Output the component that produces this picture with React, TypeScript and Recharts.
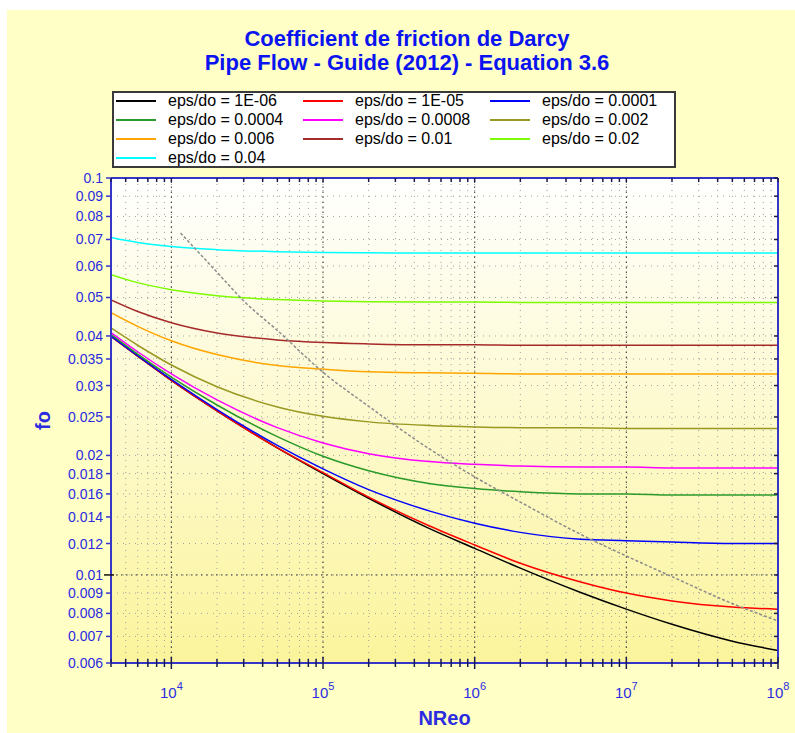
import React from 'react';
import { LineChart, Line, XAxis, YAxis, CartesianGrid, ReferenceLine, Legend, Label } from 'recharts';

const reValues = [4000, 6000, 1e4, 2e4, 5e4, 1e5, 2e5, 5e5, 1e6, 2e6, 5e6, 1e7, 2e7, 5e7, 1e8];

const fEps1e6 = [0.0399, 0.0356, 0.0309, 0.0259, 0.0209, 0.018, 0.0156, 0.0131, 0.01167, 0.0104, 0.00903, 0.0082, 0.00751, 0.00681, 0.00645];
const fEps1e5 = [0.0399, 0.0356, 0.0309, 0.0259, 0.0209, 0.0181, 0.0157, 0.0133, 0.0119, 0.0107, 0.0096, 0.009, 0.0086, 0.0083, 0.0082];
const fEps1e4 = [0.04, 0.0357, 0.0311, 0.0261, 0.0212, 0.0185, 0.0164, 0.0145, 0.0135, 0.0128, 0.0123, 0.0122, 0.0121, 0.012, 0.012];
const fEps4e4 = [0.0404, 0.036, 0.0315, 0.0268, 0.0223, 0.0199, 0.0183, 0.017, 0.0165, 0.0162, 0.016, 0.016, 0.0159, 0.0159, 0.0159];
const fEps8e4 = [0.0408, 0.0365, 0.0321, 0.0276, 0.0235, 0.0215, 0.0202, 0.0193, 0.019, 0.0188, 0.0187, 0.0187, 0.0186, 0.0186, 0.0186];
const fEps2e3 = [0.0419, 0.0379, 0.0338, 0.0298, 0.0265, 0.0251, 0.0243, 0.0238, 0.0236, 0.0235, 0.0235, 0.0234, 0.0234, 0.0234, 0.0234];
const fEps6e3 = [0.0458, 0.0423, 0.0389, 0.0359, 0.0337, 0.033, 0.0325, 0.0323, 0.0322, 0.0321, 0.0321, 0.0321, 0.0321, 0.0321, 0.0321];
const fEps1e2 = [0.0493, 0.0461, 0.0432, 0.0407, 0.0391, 0.0385, 0.0382, 0.038, 0.038, 0.0379, 0.0379, 0.0379, 0.0379, 0.0379, 0.0379];
const fEps2e2 = [0.0571, 0.0545, 0.0523, 0.0505, 0.0494, 0.049, 0.0488, 0.0487, 0.0487, 0.0486, 0.0486, 0.0486, 0.0486, 0.0486, 0.0486];
const fEps4e2 = [0.0708, 0.0688, 0.0672, 0.066, 0.0652, 0.0649, 0.0648, 0.0647, 0.0647, 0.0647, 0.0647, 0.0647, 0.0647, 0.0647, 0.0647];

const seriesValues = [fEps1e6, fEps1e5, fEps1e4, fEps4e4, fEps8e4, fEps2e3, fEps6e3, fEps1e2, fEps2e2, fEps4e2];
const seriesNames = [
  'eps/do = 1E-06', 'eps/do = 1E-05', 'eps/do = 0.0001',
  'eps/do = 0.0004', 'eps/do = 0.0008', 'eps/do = 0.002',
  'eps/do = 0.006', 'eps/do = 0.01', 'eps/do = 0.02',
  'eps/do = 0.04',
];
const seriesColors = ['#000000', '#ff0000', '#0000ff', '#2a9a2a', '#ff00ff', '#999922', '#ffa500', '#a52a2a', '#7cfc00', '#00ffff'];

// grey dashed boundary curve
const grayRe = [11500, 2e4, 3e4, 5e4, 1e5, 2e5, 5e5, 1e6, 2e6, 5e6, 1e7, 2e7, 5e7, 1e8];
const grayF = [0.0727, 0.0579, 0.049, 0.0413, 0.0324, 0.0266, 0.0208, 0.01766, 0.01526, 0.01265, 0.01116, 0.0099, 0.00847, 0.00766];

const xMajor = [1e4, 1e5, 1e6, 1e7, 1e8];
const xTicks = [
  4000, 5000, 6000, 7000, 8000, 9000,
  1e4, 2e4, 3e4, 4e4, 5e4, 6e4, 7e4, 8e4, 9e4,
  1e5, 2e5, 3e5, 4e5, 5e5, 6e5, 7e5, 8e5, 9e5,
  1e6, 2e6, 3e6, 4e6, 5e6, 6e6, 7e6, 8e6, 9e6,
  1e7, 2e7, 3e7, 4e7, 5e7, 6e7, 7e7, 8e7, 9e7,
  1e8,
];
const yTicks = [0.006, 0.007, 0.008, 0.009, 0.01, 0.012, 0.014, 0.016, 0.018, 0.02, 0.025, 0.03, 0.035, 0.04, 0.05, 0.06, 0.07, 0.08, 0.09, 0.1];

const FONT = '"Liberation Sans", Arial, sans-serif';
const AXIS_BLUE = '#3535c8';
const LABEL_BLUE = '#2b2be0';
const TITLE_BLUE = '#0a14f0';

const chartData = reValues.map((re, i) => {
  const row: Record<string, number> = { re };
  seriesValues.forEach((s, k) => { row['s' + k] = s[i]; });
  return row;
});
const grayData = grayRe.map((re, i) => ({ re, g: grayF[i] }));

const BottomTick = (props: any) => {
  const { x, y, payload } = props;
  const v = payload.value;
  const major = xMajor.includes(v);
  const len = major ? 6 : 4;
  return (
    <g>
      <line x1={x} x2={x} y1={y - len} y2={y + len} stroke="#1a1a50" strokeWidth={1.5} />
      {major && (
        <text x={x} y={y + 35} textAnchor="middle" fill={LABEL_BLUE} fontSize={15} fontFamily={FONT}>
          10<tspan dy={-8} fontSize={11}>{Math.round(Math.log10(v))}</tspan>
        </text>
      )}
    </g>
  );
};

const TopTick = (props: any) => {
  const { x, y } = props;
  return <line x1={x} x2={x} y1={y} y2={y + 4} stroke="#1a1a50" strokeWidth={1.5} />;
};

const LeftTick = (props: any) => {
  const { x, y, payload } = props;
  const v = payload.value;
  const major = v === 0.01;
  return (
    <g>
      <line x1={x - (major ? 7 : 5)} x2={x + (major ? 3 : 0)} y1={y} y2={y} stroke={major ? '#111' : AXIS_BLUE} strokeWidth={1.5} />
      <text x={x - 8} y={y} dy={5} textAnchor="end" fill={LABEL_BLUE} fontSize={14} fontFamily={FONT}>
        {String(v)}
      </text>
    </g>
  );
};

const RightTick = (props: any) => {
  const { x, y } = props;
  return <line x1={x - 4} x2={x} y1={y} y2={y} stroke="#1a1a50" strokeWidth={1.5} />;
};

const LegendBox = () => (
  <div
    style={{
      width: 564, height: 77, boxSizing: 'border-box', border: '2px solid #3a3a3a',
      background: '#ffffff', position: 'relative', fontFamily: FONT, fontSize: 16, color: '#000',
    }}
  >
    {seriesNames.map((name, i) => {
      const col = i % 3;
      const row = Math.floor(i / 3);
      return (
        <div
          key={name}
          style={{ position: 'absolute', left: 2 + col * 187, top: row * 19 - 2, height: 19, display: 'flex', alignItems: 'center', whiteSpace: 'nowrap' }}
        >
          <span style={{ display: 'inline-block', width: 40, height: 0, borderTop: `2px solid ${seriesColors[i]}`, marginRight: 12 }} />
          <span>{name}</span>
        </div>
      );
    })}
  </div>
);

const App: React.FC = () => {
  return (
    <div style={{ position: 'absolute', left: 7, top: 10, width: 788, height: 723, background: '#ffffc6', fontFamily: FONT }}>
      <div
        style={{
          position: 'absolute', top: 17, left: 0, width: 800, textAlign: 'center',
          color: TITLE_BLUE, fontWeight: 'bold', fontSize: 22, lineHeight: '24px',
        }}
      >
        <div>Coefficient de friction de Darcy</div>
        <div>Pipe Flow - Guide (2012) - Equation 3.6</div>
      </div>
      <LineChart
        width={788}
        height={723}
        data={chartData}
        margin={{ top: 167, right: 16, bottom: 0, left: 4 }}
        style={{ position: 'absolute', left: 0, top: 0 }}
      >
        <defs>
          <linearGradient id="plotBg" x1="0" y1="0" x2="0" y2="1">
            <stop offset="0%" stopColor="#ffffff" />
            <stop offset="100%" stopColor="#fbf49c" />
          </linearGradient>
        </defs>
        <CartesianGrid stroke="#a0a0a0" strokeDasharray="1 5" fill="url(#plotBg)" fillOpacity={1} />
        <XAxis
          dataKey="re"
          type="number"
          scale="log"
          domain={[4000, 1e8]}
          allowDataOverflow
          ticks={xTicks}
          interval={0}
          height={70}
          tickSize={0}
          tickMargin={0}
          tickLine={false}
          tick={<BottomTick />}
          axisLine={{ stroke: AXIS_BLUE, strokeWidth: 2 }}
        >
          <Label value="NReo" position="insideBottom" offset={8} fill={LABEL_BLUE} fontSize={20} fontWeight="bold" fontFamily={FONT} />
        </XAxis>
        <XAxis
          xAxisId="top"
          orientation="top"
          dataKey="re"
          type="number"
          scale="log"
          domain={[4000, 1e8]}
          allowDataOverflow
          ticks={xTicks}
          interval={0}
          height={1}
          tickSize={0}
          tickMargin={0}
          tickLine={false}
          tick={<TopTick />}
          axisLine={{ stroke: AXIS_BLUE, strokeWidth: 2 }}
        />
        <YAxis
          type="number"
          scale="log"
          domain={[0.006, 0.1]}
          allowDataOverflow
          ticks={yTicks}
          interval={0}
          width={100}
          tickSize={0}
          tickMargin={0}
          tickLine={false}
          tick={<LeftTick />}
          axisLine={{ stroke: AXIS_BLUE, strokeWidth: 2 }}
        >
          <Label
            content={(p: any) => {
              const vb = p.viewBox;
              const cx = vb.x + 39;
              const cy = vb.y + vb.height / 2;
              return (
                <text x={cx} y={cy} transform={`rotate(-90 ${cx} ${cy})`} textAnchor="middle" fill={LABEL_BLUE} fontSize={20} fontWeight="bold" fontFamily={FONT}>
                  fo
                </text>
              );
            }}
          />
        </YAxis>
        <YAxis
          yAxisId="right"
          orientation="right"
          type="number"
          scale="log"
          domain={[0.006, 0.1]}
          allowDataOverflow
          ticks={yTicks}
          interval={0}
          width={1}
          tickSize={0}
          tickMargin={0}
          tickLine={false}
          tick={<RightTick />}
          axisLine={{ stroke: AXIS_BLUE, strokeWidth: 2 }}
        />
        {[1e4, 1e5, 1e6, 1e7].map((v) => (
          <ReferenceLine key={v} x={v} stroke="#333" strokeDasharray="1.5 3.5" />
        ))}
        <ReferenceLine y={0.01} stroke="#333" strokeDasharray="1.5 3.5" />
        <Legend
          content={<LegendBox />}
          layout="horizontal"
          verticalAlign="middle"
          align="center"
          wrapperStyle={{ position: 'absolute', left: 105, top: 81, width: 564, height: 77 }}
        />
        {/* keeps top/right frame axes alive */}
        <Line xAxisId="top" yAxisId="right" dataKey="s0" stroke="none" dot={false} activeDot={false} isAnimationActive={false} legendType="none" />
        {seriesValues.map((_, k) => (
          <Line
            key={k}
            type="monotone"
            dataKey={'s' + k}
            stroke={seriesColors[k]}
            strokeWidth={1.5}
            dot={false}
            isAnimationActive={false}
          />
        ))}
        <Line
          data={grayData}
          type="monotone"
          dataKey="g"
          stroke="#8c8c8c"
          strokeWidth={1.5}
          strokeDasharray="3 2"
          dot={false}
          isAnimationActive={false}
        />
      </LineChart>
    </div>
  );
};

export default App;
